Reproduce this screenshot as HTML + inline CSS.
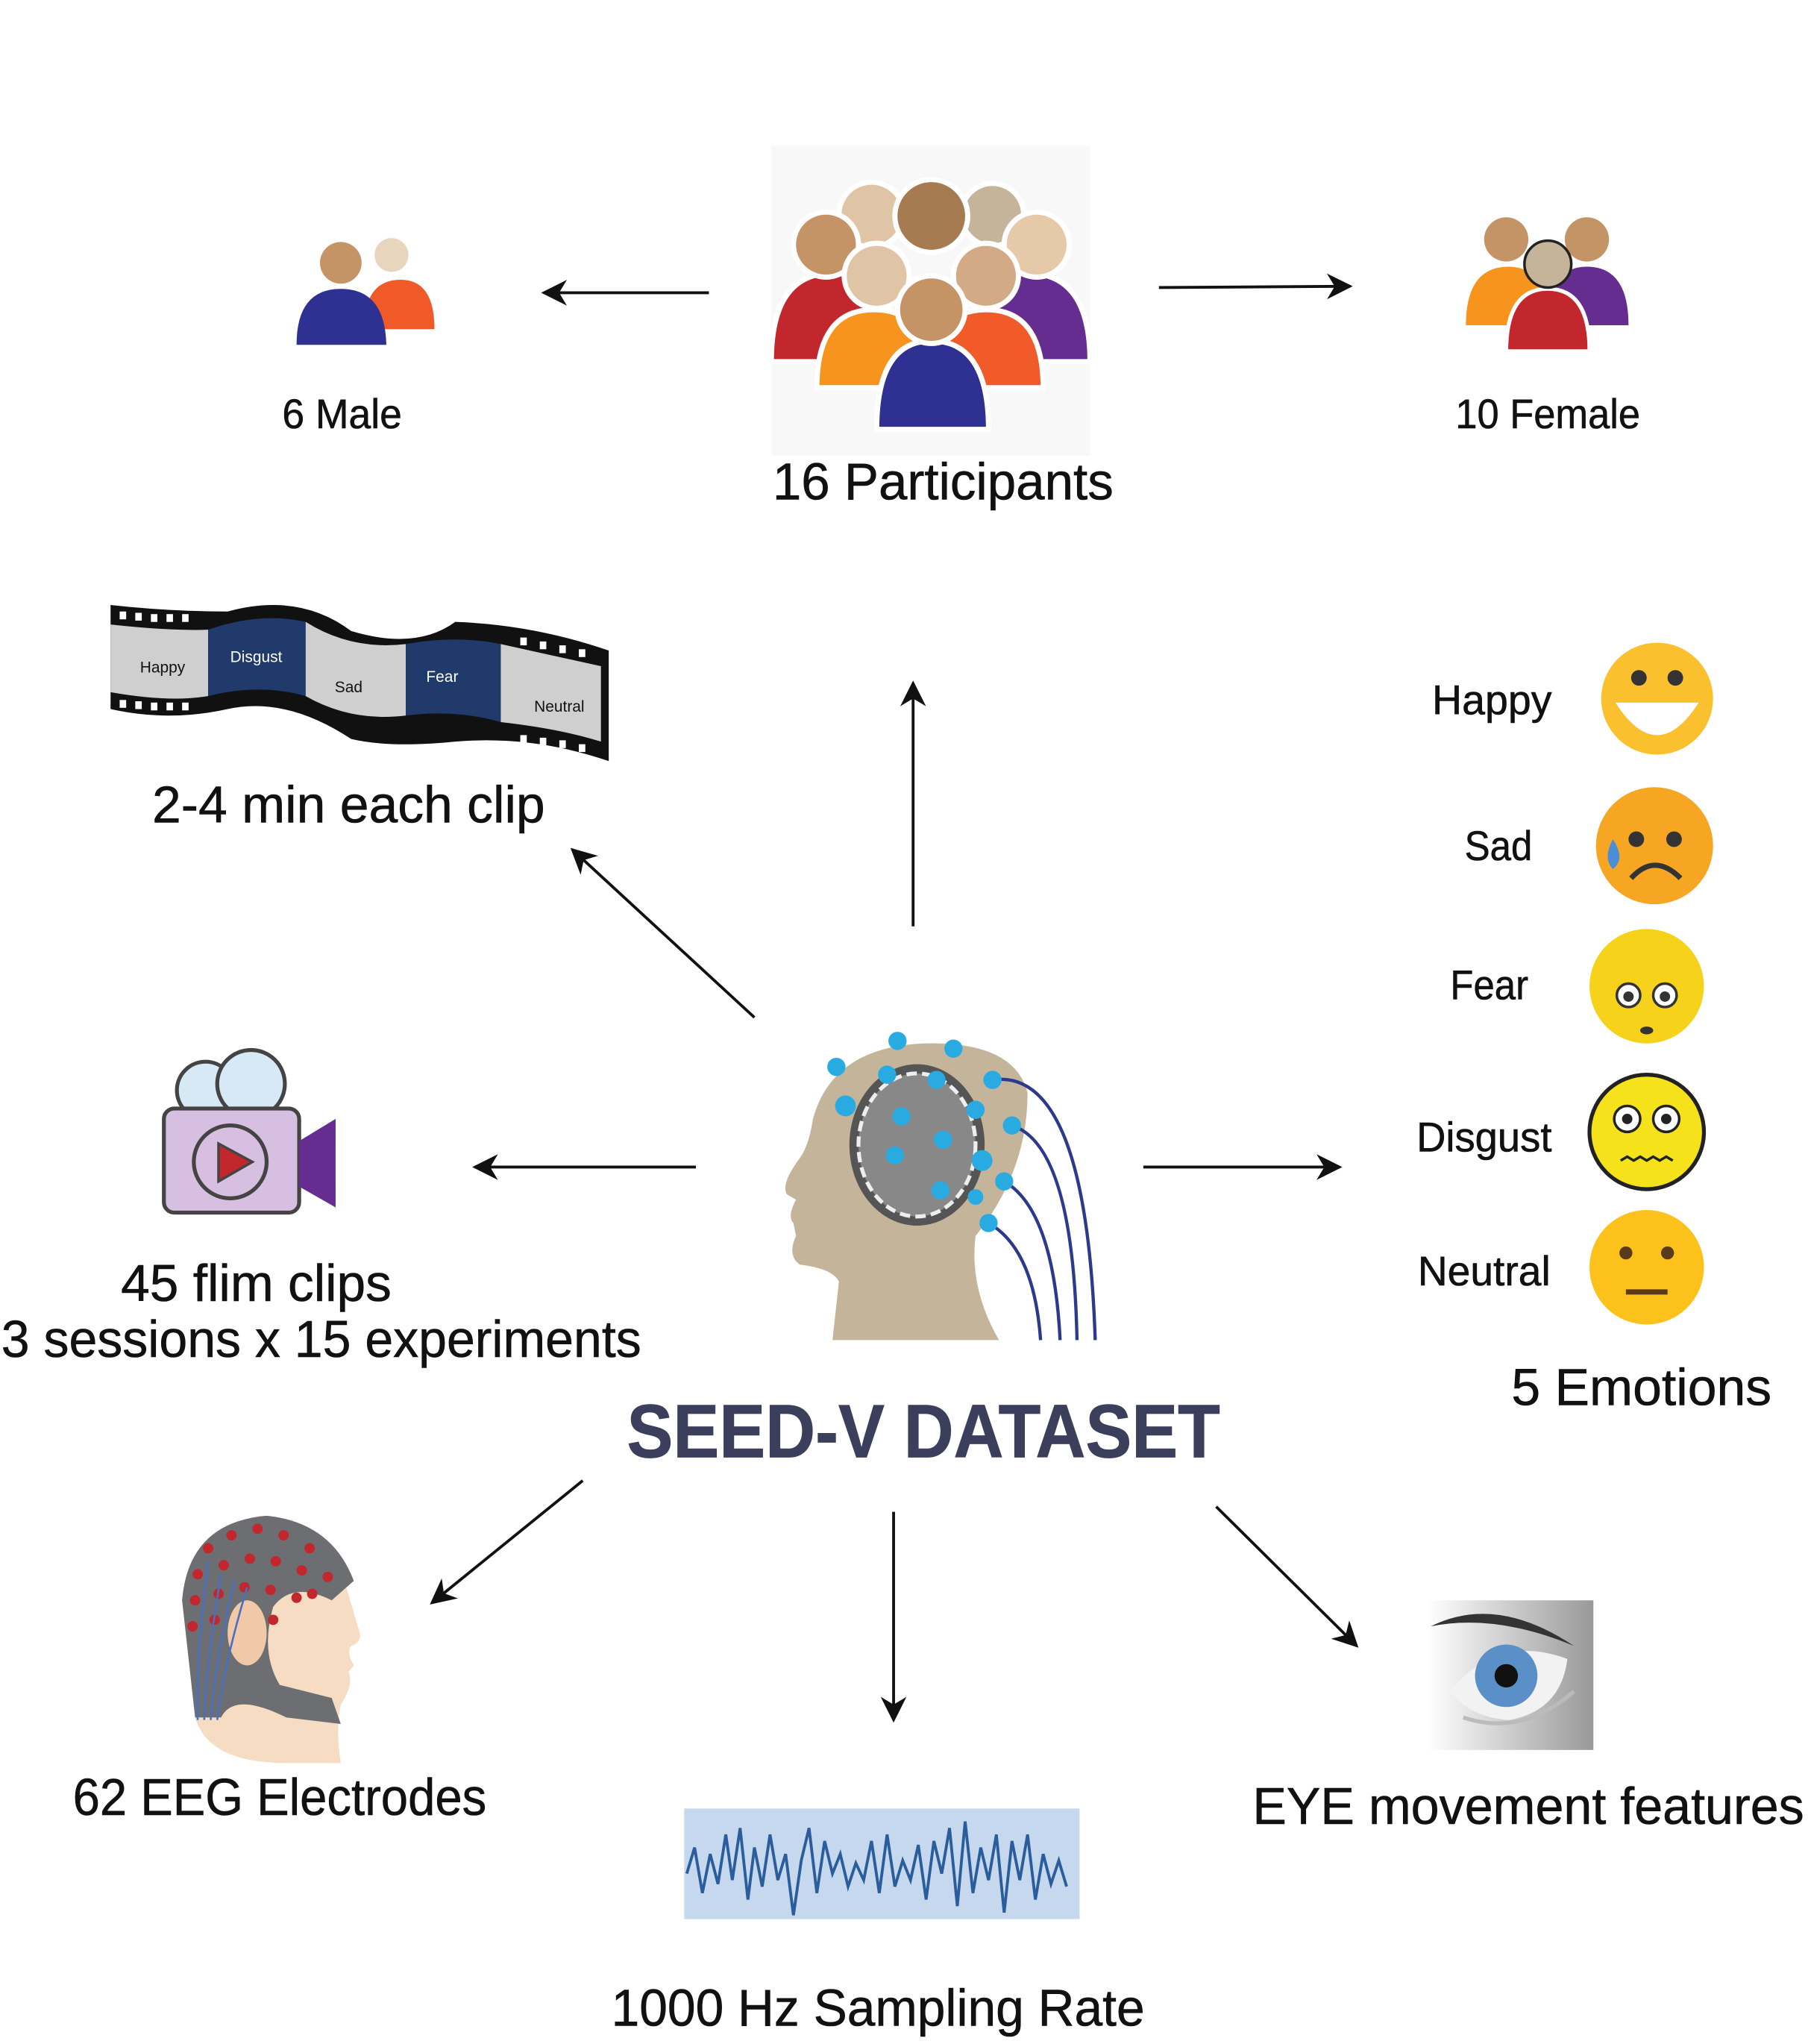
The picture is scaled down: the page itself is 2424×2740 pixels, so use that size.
<!DOCTYPE html>
<html><head><meta charset="utf-8"><style>
html,body{margin:0;padding:0;background:#fff}
svg{display:block}
text{font-family:"Liberation Sans",sans-serif;fill:#111;stroke:#111;stroke-width:0.35}
</style></head><body>
<svg width="2424" height="2740" viewBox="0 0 1390 1571" preserveAspectRatio="none" xmlns="http://www.w3.org/2000/svg">
<defs>
<marker id="ah" viewBox="0 0 10 10" refX="9" refY="5" markerWidth="9" markerHeight="9" orient="auto"><path d="M0,0 L10,5 L0,10 L3,5 z" fill="#111"/></marker>
</defs>
<rect width="1390" height="1571" fill="#fff"/>

<g stroke="#111" stroke-width="2.2" fill="none" marker-end="url(#ah)">
<line x1="545" y1="225" x2="418" y2="225"/>
<line x1="891" y1="221" x2="1038" y2="220"/>
<line x1="702" y1="712" x2="702" y2="525"/>
<line x1="580" y1="782" x2="440" y2="653"/>
<line x1="535" y1="897" x2="365" y2="897"/>
<line x1="879" y1="897" x2="1030" y2="897"/>
<line x1="448" y1="1138" x2="332" y2="1232"/>
<line x1="687" y1="1162" x2="687" y2="1322"/>
<line x1="935" y1="1158" x2="1043" y2="1265"/>
</g>

<circle cx="301" cy="196" r="13" fill="#e8d5bd"/>
<path d="M280,253 Q280,215 308,215 Q334,215 334,253 Z" fill="#f05a28"/>
<circle cx="262" cy="202" r="16" fill="#c49467"/>
<path d="M228,265 Q228,222 262,222 Q296,222 297,265 Z" fill="#2e3192"/>
<text x="263" y="329" font-size="32" text-anchor="middle" textLength="92" lengthAdjust="spacingAndGlyphs">6 Male</text>

<rect x="593" y="112" width="245" height="238" fill="#f8f8f8"/>
<g stroke="#fff" stroke-width="4">
<circle cx="670" cy="165" r="25" fill="#e0c4a6"/><circle cx="763" cy="165" r="24" fill="#c5b49a"/>
<path d="M593,278 Q593,210 640,210 Q690,210 690,278 Z" fill="#c1272d"/>
<path d="M745,278 Q745,210 790,210 Q838,210 838,278 Z" fill="#662d91"/>
<circle cx="635" cy="188" r="25" fill="#c49467"/><circle cx="797" cy="188" r="25" fill="#e6c9a8"/>
<circle cx="716" cy="166" r="28" fill="#a77b52"/>
<path d="M628,298 Q628,238 672,238 Q716,238 716,298 Z" fill="#f7941d"/>
<path d="M715,298 Q715,238 758,238 Q802,238 802,298 Z" fill="#f15a29"/>
<circle cx="674" cy="212" r="25" fill="#e0c4a6"/><circle cx="758" cy="212" r="25" fill="#d2aa86"/>
<path d="M674,330 Q674,262 716,262 Q760,262 760,330 Z" fill="#2e3192"/>
<circle cx="716" cy="238" r="26" fill="#c49467"/>
</g>
<text x="725" y="384" font-size="40" text-anchor="middle" textLength="262" lengthAdjust="spacingAndGlyphs">16 Participants</text>

<circle cx="1158" cy="184" r="17" fill="#c49467"/><circle cx="1220" cy="184" r="17" fill="#c49467"/>
<path d="M1127,250 Q1127,205 1160,205 Q1190,205 1190,250 Z" fill="#f7941d"/>
<path d="M1190,250 Q1190,205 1220,205 Q1252,205 1252,250 Z" fill="#662d91"/>
<path d="M1158,270 Q1158,222 1190,222 Q1222,222 1222,270 Z" fill="#c1272d" stroke="#fff" stroke-width="3"/>
<circle cx="1190" cy="203" r="18" fill="#c5b49a" stroke="#222" stroke-width="2"/>
<text x="1190" y="329" font-size="32" text-anchor="middle" textLength="142" lengthAdjust="spacingAndGlyphs">10 Female</text>

<path d="M85,465 Q130,470 175,470 Q230,455 270,485 Q320,500 350,478 Q410,480 468,500 L468,585 Q410,565 350,570 Q300,575 270,568 Q220,535 175,545 Q130,555 85,545 Z" fill="#111"/>
<path d="M85,480 Q130,485 160,484 L160,535 Q130,540 85,532 Z" fill="#cfcfcf"/>
<path d="M160,484 Q200,470 235,478 L235,535 Q200,525 160,535 Z" fill="#1f3a6b"/>
<path d="M235,478 Q270,500 312,495 L312,550 Q270,555 235,535 Z" fill="#cfcfcf"/>
<path d="M312,495 Q350,488 385,495 L385,555 Q350,545 312,550 Z" fill="#1f3a6b"/>
<path d="M385,495 Q430,505 462,512 L462,570 Q430,560 385,555 Z" fill="#cfcfcf"/>
<g fill="#fff"><rect x="92" y="470" width="5" height="6"/><rect x="104" y="471" width="5" height="6"/><rect x="116" y="472" width="5" height="6"/><rect x="128" y="472" width="5" height="6"/><rect x="140" y="472" width="5" height="6"/><rect x="92" y="538" width="5" height="6"/><rect x="104" y="539" width="5" height="6"/><rect x="116" y="540" width="5" height="6"/><rect x="128" y="540" width="5" height="6"/><rect x="140" y="540" width="5" height="6"/><rect x="400" y="490" width="5" height="6"/><rect x="415" y="493" width="5" height="6"/><rect x="430" y="496" width="5" height="6"/><rect x="445" y="499" width="5" height="6"/><rect x="400" y="565" width="5" height="6"/><rect x="415" y="567" width="5" height="6"/><rect x="430" y="569" width="5" height="6"/><rect x="445" y="572" width="5" height="6"/></g>
<text x="125" y="517" font-size="12" text-anchor="middle" style="stroke:none">Happy</text>
<text x="197" y="509" font-size="12" text-anchor="middle" style="fill:#fff;stroke:none">Disgust</text>
<text x="268" y="532" font-size="12" text-anchor="middle" style="stroke:none">Sad</text>
<text x="340" y="524" font-size="12" text-anchor="middle" style="fill:#fff;stroke:none">Fear</text>
<text x="430" y="547" font-size="12" text-anchor="middle" style="stroke:none">Neutral</text>
<text x="268" y="632" font-size="40" text-anchor="middle" textLength="302" lengthAdjust="spacingAndGlyphs">2-4 min each clip</text>

<g font-size="32" text-anchor="end">
<text x="1193" y="549" textLength="92" lengthAdjust="spacingAndGlyphs">Happy</text>
<text x="1178" y="661" textLength="52" lengthAdjust="spacingAndGlyphs">Sad</text>
<text x="1175" y="768" textLength="60" lengthAdjust="spacingAndGlyphs">Fear</text>
<text x="1193" y="885" textLength="104" lengthAdjust="spacingAndGlyphs">Disgust</text>
<text x="1192" y="988" textLength="102" lengthAdjust="spacingAndGlyphs">Neutral</text>
</g>
<circle cx="1274" cy="537" r="43" fill="#fbc02d"/><path d="M1242,540 Q1274,590 1306,540 Z" fill="#fff"/><circle cx="1260" cy="521" r="6" fill="#333"/><circle cx="1288" cy="521" r="6" fill="#333"/>
<circle cx="1272" cy="650" r="45" fill="#f6a623"/><circle cx="1258" cy="645" r="6" fill="#333"/><circle cx="1287" cy="645" r="6" fill="#333"/><path d="M1254,675 Q1272,655 1292,675" stroke="#333" stroke-width="4" fill="none"/><path d="M1240,645 Q1232,660 1240,668 Q1250,660 1240,645 Z" fill="#4a8fd6"/>
<circle cx="1266" cy="758" r="44" fill="#f6d21a"/><circle cx="1252" cy="765" r="9" fill="#fff" stroke="#333" stroke-width="2"/><circle cx="1280" cy="765" r="9" fill="#fff" stroke="#333" stroke-width="2"/><circle cx="1252" cy="766" r="4" fill="#333"/><circle cx="1280" cy="766" r="4" fill="#333"/><ellipse cx="1266" cy="792" rx="5" ry="3" fill="#333"/>
<circle cx="1266" cy="870" r="44" fill="#f6e21a" stroke="#222" stroke-width="3"/><circle cx="1251" cy="860" r="10" fill="#fff" stroke="#222" stroke-width="2"/><circle cx="1281" cy="860" r="10" fill="#fff" stroke="#222" stroke-width="2"/><circle cx="1251" cy="860" r="4" fill="#222"/><circle cx="1281" cy="860" r="4" fill="#222"/><path d="M1246,892 l5,-3 l5,3 l5,-3 l5,3 l5,-3 l5,3 l5,-3 l5,3" stroke="#222" stroke-width="2" fill="none"/>
<circle cx="1266" cy="974" r="44" fill="#fcc21b"/><circle cx="1250" cy="963" r="5" fill="#5a3a1a"/><circle cx="1282" cy="963" r="5" fill="#5a3a1a"/><line x1="1250" y1="993" x2="1282" y2="993" stroke="#5a3a1a" stroke-width="4"/>
<text x="1262" y="1080" font-size="40" text-anchor="middle" textLength="200" lengthAdjust="spacingAndGlyphs">5 Emotions</text>

<path d="M640,1030 L768,1030 Q745,990 750,950 Q790,900 790,840 Q780,800 710,802 Q640,805 625,860 Q622,880 615,890 Q600,910 605,918 L612,922 Q605,935 610,940 L612,950 Q605,965 615,972 Q640,975 645,985 Z" fill="#c4b49a"/>
<ellipse cx="705" cy="880" rx="52" ry="62" fill="#555"/>
<ellipse cx="705" cy="880" rx="45" ry="55" fill="#888" stroke="#eee" stroke-width="3" stroke-dasharray="8 4"/>
<g stroke="#2b3a8c" stroke-width="2.5" fill="none">
<path d="M763,830 Q835,820 842,1030"/><path d="M778,865 Q825,880 828,1030"/><path d="M772,908 Q810,930 815,1030"/><path d="M760,940 Q795,960 800,1030"/>
</g>
<g fill="#29abe2">
<circle cx="643" cy="820" r="7"/><circle cx="690" cy="800" r="7"/><circle cx="733" cy="806" r="7"/><circle cx="763" cy="830" r="7"/><circle cx="778" cy="865" r="7"/><circle cx="772" cy="908" r="7"/><circle cx="760" cy="940" r="7"/><circle cx="682" cy="826" r="7"/><circle cx="720" cy="830" r="7"/><circle cx="650" cy="850" r="8"/><circle cx="693" cy="858" r="7"/><circle cx="750" cy="853" r="7"/><circle cx="725" cy="876" r="7"/><circle cx="755" cy="892" r="8"/><circle cx="688" cy="888" r="7"/><circle cx="723" cy="915" r="7"/><circle cx="750" cy="920" r="6"/>
</g>

<circle cx="158" cy="838" r="22" fill="#d7e9f5" stroke="#444" stroke-width="3"/><circle cx="193" cy="833" r="26" fill="#d7e9f5" stroke="#444" stroke-width="3"/>
<rect x="126" y="852" width="104" height="80" rx="8" fill="#d6bfe0" stroke="#444" stroke-width="3"/>
<path d="M230,877 L258,860 L258,928 L230,912 Z" fill="#662d91"/>
<circle cx="177" cy="893" r="28" fill="#d6bfe0" stroke="#444" stroke-width="3"/>
<path d="M168,879 L194,893 L168,908 Z" fill="#c1272d" stroke="#444" stroke-width="2"/>
<text x="197" y="1000" font-size="40" text-anchor="middle" textLength="208" lengthAdjust="spacingAndGlyphs">45 flim clips</text>
<text x="247" y="1043" font-size="40" text-anchor="middle" textLength="492" lengthAdjust="spacingAndGlyphs">3 sessions x 15 experiments</text>

<text x="710" y="1120" font-size="58" font-weight="bold" text-anchor="middle" textLength="456" lengthAdjust="spacingAndGlyphs" style="fill:#3b3f5c;stroke:#3b3f5c;stroke-width:0.5">SEED-V  DATASET</text>

<path d="M150,1320 Q160,1355 220,1355 L262,1355 Q258,1330 262,1310 Q272,1295 268,1285 L272,1280 Q266,1270 270,1265 Q280,1262 275,1250 Q268,1225 260,1200 Q230,1165 200,1165 Q145,1175 140,1230 Z" fill="#f7dcc4"/>
<path d="M140,1230 Q145,1170 205,1165 Q255,1170 272,1215 L255,1230 Q225,1215 210,1235 Q200,1270 215,1295 L255,1305 L262,1325 L220,1320 Q180,1300 170,1320 L150,1320 Z" fill="#6d6e71"/>
<ellipse cx="190" cy="1255" rx="15" ry="25" fill="#f2c9a8"/>
<g fill="#c1272d"><circle cx="160" cy="1190" r="4"/><circle cx="178" cy="1180" r="4"/><circle cx="198" cy="1175" r="4"/><circle cx="218" cy="1180" r="4"/><circle cx="238" cy="1190" r="4"/><circle cx="152" cy="1210" r="4"/><circle cx="172" cy="1203" r="4"/><circle cx="192" cy="1198" r="4"/><circle cx="212" cy="1200" r="4"/><circle cx="232" cy="1207" r="4"/><circle cx="252" cy="1212" r="4"/><circle cx="150" cy="1230" r="4"/><circle cx="168" cy="1225" r="4"/><circle cx="188" cy="1220" r="4"/><circle cx="208" cy="1222" r="4"/><circle cx="228" cy="1228" r="4"/><circle cx="148" cy="1250" r="4"/><circle cx="165" cy="1245" r="4"/><circle cx="210" cy="1245" r="4"/><circle cx="240" cy="1225" r="4"/></g>
<g stroke="#4a6fc0" stroke-width="1.5" fill="none"><path d="M160,1200 Q150,1280 152,1322"/><path d="M170,1210 Q158,1280 157,1322"/><path d="M180,1215 Q165,1280 162,1322"/><path d="M190,1220 Q172,1280 167,1322"/></g>
<text x="215" y="1395" font-size="40" text-anchor="middle" textLength="318" lengthAdjust="spacingAndGlyphs">62 EEG Electrodes</text>

<rect x="526" y="1390" width="304" height="85" fill="#c5d8ee"/>
<polyline fill="none" stroke="#2b5d9c" stroke-width="2.2" points="528,1440 534,1420 540,1455 546,1425 552,1448 558,1410 563,1445 569,1405 575,1460 580,1420 586,1450 592,1410 598,1445 604,1425 610,1472 616,1430 622,1405 628,1455 634,1415 640,1440 646,1425 652,1450 658,1432 664,1445 670,1415 676,1455 682,1410 688,1450 694,1430 700,1445 706,1418 712,1460 718,1415 724,1440 730,1405 736,1465 742,1400 748,1455 754,1420 760,1445 766,1410 772,1470 778,1415 784,1445 790,1410 796,1460 802,1425 808,1448 814,1430 820,1450"/>
<text x="675" y="1557" font-size="40" text-anchor="middle" textLength="410" lengthAdjust="spacingAndGlyphs">1000 Hz Sampling Rate</text>

<defs><linearGradient id="eg" x1="0" x2="1"><stop offset="0" stop-color="#fff"/><stop offset="1" stop-color="#999"/></linearGradient></defs>
<rect x="1097" y="1230" width="128" height="115" fill="url(#eg)"/>
<path d="M1100,1250 Q1150,1225 1210,1265 Q1150,1240 1100,1250 Z" fill="#333"/>
<path d="M1115,1300 Q1150,1255 1205,1275 Q1200,1315 1160,1322 Q1130,1320 1115,1300 Z" fill="#f2f2f2"/>
<circle cx="1158" cy="1288" r="24" fill="#5b8fc7"/><circle cx="1158" cy="1288" r="9" fill="#111"/>
<path d="M1125,1320 Q1170,1335 1210,1300" stroke="#bbb" stroke-width="3" fill="none"/>
<text x="1175" y="1402" font-size="40" text-anchor="middle" textLength="424" lengthAdjust="spacingAndGlyphs">EYE movement features</text>
</svg>
</body></html>
